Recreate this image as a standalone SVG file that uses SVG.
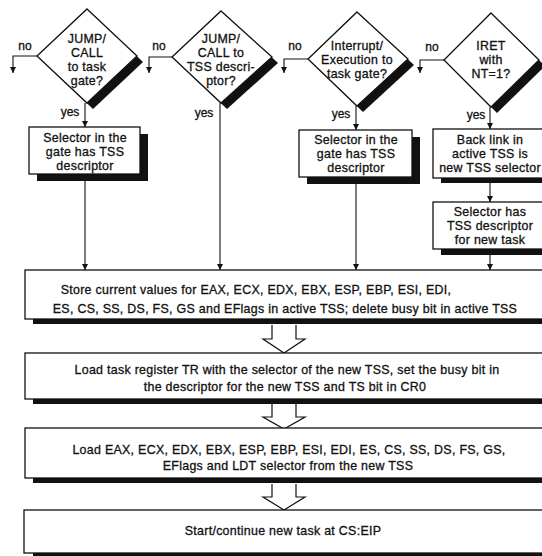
<svg xmlns="http://www.w3.org/2000/svg" width="542" height="556" viewBox="0 0 542 556">
  <style>
    .shape { fill: #fff; stroke: #111; stroke-width: 1.3; }
    .shadow { fill: #111; stroke: none; }
    .line { fill: none; stroke: #111; stroke-width: 1.1; }
    .big { fill: #fff; stroke: #111; stroke-width: 1.2; stroke-linejoin: miter; }
    text { font-family: "Liberation Sans", Arial, sans-serif; font-size: 12.4px; letter-spacing: 0.3px; fill: #111; stroke: #111; stroke-width: 0.3px; text-anchor: middle; }
    .lbl { font-size: 12px; letter-spacing: 0; }
  </style>
  <defs>
    <marker id="ah" viewBox="0 0 10 10" refX="10" refY="5" markerWidth="6" markerHeight="7" markerUnits="userSpaceOnUse" orient="auto">
      <path d="M0,0 L10,5 L0,10 Z" fill="#111"/>
    </marker>
  </defs>

  <!-- connectors -->
  <g id="connectors">
    <!-- "no" exits -->
    <path class="line" d="M37,56 H13 V73" marker-end="url(#ah)"/>
    <path class="line" d="M172,57 H149 V73" marker-end="url(#ah)"/>
    <path class="line" d="M308,59 H284 V73" marker-end="url(#ah)"/>
    <path class="line" d="M444,60 H420 V73" marker-end="url(#ah)"/>
    <!-- "yes" paths -->
    <path class="line" d="M85,103 V127" marker-end="url(#ah)"/>
    <path class="line" d="M85,174 V270" marker-end="url(#ah)"/>
    <path class="line" d="M220,103 V270" marker-end="url(#ah)"/>
    <path class="line" d="M356,106 V130" marker-end="url(#ah)"/>
    <path class="line" d="M356,177 V270" marker-end="url(#ah)"/>
    <path class="line" d="M490,107 V129" marker-end="url(#ah)"/>
    <path class="line" d="M490,178 V202" marker-end="url(#ah)"/>
    <path class="line" d="M490,249 V270" marker-end="url(#ah)"/>
    <!-- hollow block arrows -->
    <path class="big" d="M272,325 V339 H263 L284,353 L305,339 H296 V325"/>
    <path class="big" d="M272,404 V417 H263 L284,429 L305,417 H296 V404"/>
    <path class="big" d="M272,484 V497 H263 L284,510 L305,497 H296 V484"/>
    <!-- branch labels -->
    <text class="lbl" x="25" y="50">no</text>
    <text class="lbl" x="159" y="50">no</text>
    <text class="lbl" x="295" y="50">no</text>
    <text class="lbl" x="432" y="51">no</text>
    <text class="lbl" x="70" y="116">yes</text>
    <text class="lbl" x="204" y="117">yes</text>
    <text class="lbl" x="341" y="118">yes</text>
    <text class="lbl" x="476" y="119">yes</text>
  </g>

  <!-- decisions -->
  <g id="dec-task-gate">
    <path class="shadow" d="M87,9 L143,62 L93,109 L37,56 Z"/>
    <path class="shape" d="M87,9 L137,56 L87,103 L37,56 Z"/>
    <text x="87" y="43">JUMP/</text>
    <text x="87" y="57">CALL</text>
    <text x="87" y="71">to task</text>
    <text x="87" y="85">gate?</text>
  </g>
  <g id="dec-tss-descriptor">
    <path class="shadow" d="M221,11 L278,63 L227,109 L172,57 Z"/>
    <path class="shape" d="M221,11 L272,57 L221,103 L172,57 Z"/>
    <text x="221" y="43">JUMP/</text>
    <text x="221" y="57">CALL to</text>
    <text x="221" y="71">TSS descri-</text>
    <text x="221" y="85">ptor?</text>
  </g>
  <g id="dec-interrupt">
    <path class="shadow" d="M357,12 L414,65 L363,112 L308,59 Z"/>
    <path class="shape" d="M357,12 L408,59 L357,106 L308,59 Z"/>
    <text x="357" y="50">Interrupt/</text>
    <text x="357" y="64">Execution to</text>
    <text x="357" y="78">task gate?</text>
  </g>
  <g id="dec-iret">
    <path class="shadow" d="M491,13 L545,66 L497,113 L444,60 Z"/>
    <path class="shape" d="M491,13 L539,60 L491,107 L444,60 Z"/>
    <text x="491" y="50">IRET</text>
    <text x="491" y="64">with</text>
    <text x="491" y="78">NT=1?</text>
  </g>

  <!-- process boxes -->
  <g id="box-gate-selector-1">
    <rect class="shadow" x="37" y="134" width="111" height="47"/>
    <rect class="shape" x="29" y="127" width="111" height="47"/>
    <text x="85" y="142">Selector in the</text>
    <text x="85" y="156">gate has TSS</text>
    <text x="85" y="170">descriptor</text>
  </g>
  <g id="box-gate-selector-2">
    <rect class="shadow" x="307" y="137" width="113" height="47"/>
    <rect class="shape" x="299" y="130" width="113" height="47"/>
    <text x="356" y="144">Selector in the</text>
    <text x="356" y="158">gate has TSS</text>
    <text x="356" y="172">descriptor</text>
  </g>
  <g id="box-back-link">
    <rect class="shadow" x="441" y="134" width="113" height="49"/>
    <rect class="shape" x="433" y="129" width="113" height="49"/>
    <text x="490" y="144">Back link in</text>
    <text x="490" y="158">active TSS is</text>
    <text x="490" y="172">new TSS selector</text>
  </g>
  <g id="box-selector-new-task">
    <rect class="shadow" x="441" y="207" width="113" height="48"/>
    <rect class="shape" x="433" y="202" width="113" height="47"/>
    <text x="490" y="216">Selector has</text>
    <text x="490" y="230">TSS descriptor</text>
    <text x="490" y="244">for new task</text>
  </g>
  <g id="box-store">
    <rect class="shadow" x="33" y="275" width="520" height="49"/>
    <rect class="shape" x="25" y="270" width="522" height="49"/>
    <text x="256" y="294">Store current values for EAX, ECX, EDX, EBX, ESP, EBP, ESI, EDI,</text>
    <text x="285" y="313">ES, CS, SS, DS, FS, GS and EFlags in active TSS; delete busy bit in active TSS</text>
  </g>
  <g id="box-load-tr">
    <rect class="shadow" x="33" y="358" width="520" height="46"/>
    <rect class="shape" x="25" y="353" width="522" height="46"/>
    <text x="287" y="374">Load task register TR with the selector of the new TSS, set the busy bit in</text>
    <text x="285" y="391">the descriptor for the new TSS and TS bit in CR0</text>
  </g>
  <g id="box-load-regs">
    <rect class="shadow" x="33" y="433" width="520" height="50"/>
    <rect class="shape" x="25" y="428" width="522" height="50"/>
    <text x="289" y="454">Load EAX, ECX, EDX, EBX, ESP, EBP, ESI, EDI, ES, CS, SS, DS, FS, GS,</text>
    <text x="288" y="470">EFlags and LDT selector from the new TSS</text>
  </g>
  <g id="box-start">
    <rect class="shadow" x="33" y="514" width="520" height="44"/>
    <rect class="shape" x="24" y="510" width="523" height="43"/>
    <text x="283" y="535">Start/continue new task at CS:EIP</text>
  </g>
</svg>
